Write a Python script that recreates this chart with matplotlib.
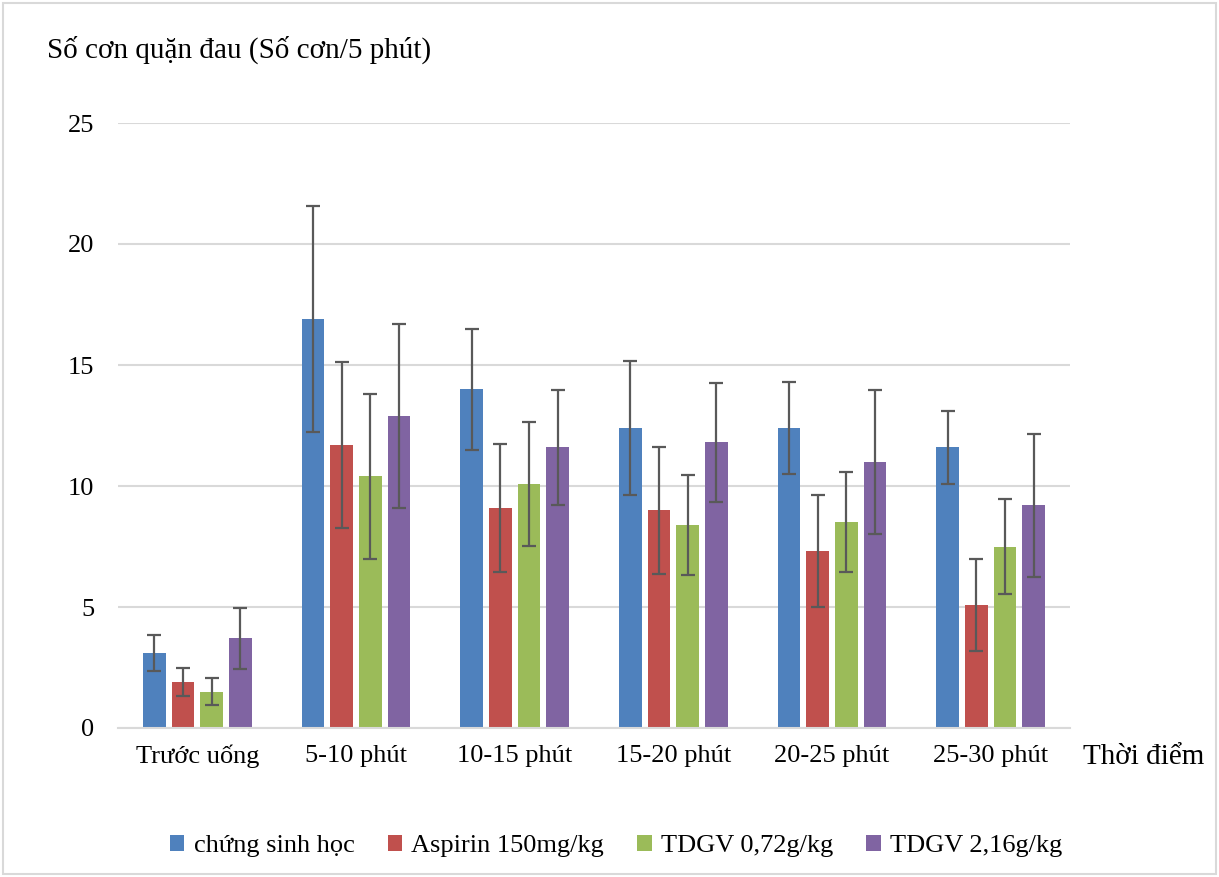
import matplotlib
matplotlib.use("Agg")
import matplotlib.pyplot as plt
import numpy as np
from matplotlib.patches import Rectangle

categories = ["Trước uống", "5-10 phút", "10-15 phút", "15-20 phút", "20-25 phút", "25-30 phút"]
series_names = ["chứng sinh học", "Aspirin 150mg/kg", "TDGV 0,72g/kg", "TDGV 2,16g/kg"]
control = [3.1, 16.9, 14.0, 12.4, 12.4, 11.6]
aspirin = [1.9, 11.7, 9.1, 9.0, 7.3, 5.1]
tdgv_low = [1.5, 10.4, 10.1, 8.4, 8.5, 7.5]
tdgv_high = [3.7, 12.9, 11.6, 11.8, 11.0, 9.2]
control_err = [0.73, 4.67, 2.5, 2.76, 1.9, 1.5]
aspirin_err = [0.58, 3.43, 2.65, 2.62, 2.32, 1.9]
tdgv_low_err = [0.55, 3.41, 2.56, 2.07, 2.07, 1.96]
tdgv_high_err = [1.26, 3.8, 2.38, 2.45, 2.98, 2.94]
yticks = [0, 5, 10, 15, 20, 25]

colors = ["#4F81BD", "#C0504D", "#9BBB59", "#8064A2"]
plt.rcParams['font.family'] = ['Liberation Serif', 'DejaVu Serif']

W, H = 1219, 877
fig = plt.figure(figsize=(W / 100, H / 100), dpi=100)
ax = fig.add_axes([118 / W, 1 - 728 / H, (1070 - 118) / W, (728 - 123) / H])

x = np.arange(len(categories))
step = 0.181
bw = 0.143
vals = [control, aspirin, tdgv_low, tdgv_high]
errs = [control_err, aspirin_err, tdgv_low_err, tdgv_high_err]
for i, (v, e, c, n) in enumerate(zip(vals, errs, colors, series_names)):
    ax.bar(x + (i - 1.5) * step, v, width=bw, color=c, label=n, zorder=2)
    ax.errorbar(x + (i - 1.5) * step, v, yerr=e, fmt='none', ecolor='#595959',
                elinewidth=1.6, capsize=4.8, capthick=1.6, zorder=3)

ax.set_xlim(-0.5, len(categories) - 0.5)
ax.set_ylim(0, 25)
ax.set_yticks(yticks)
ax.set_xticks(x)
ax.set_xticklabels(categories)
ax.grid(axis='y', color='#D9D9D9', linewidth=1.5, zorder=0)
ax.set_axisbelow(True)
for s in ['top', 'right', 'left']:
    ax.spines[s].set_visible(False)
ax.spines['bottom'].set_color('#D9D9D9')
ax.spines['bottom'].set_linewidth(1.5)
ax.tick_params(axis='both', length=0, labelsize=19, colors='black')
ax.tick_params(axis='y', pad=17)
ax.tick_params(axis='x', pad=12)

fig.text(47 / W, 1 - 50 / H, "Số cơn quặn đau (Số cơn/5 phút)", fontsize=21, va='center', ha='left')
fig.text(1083 / W, 1 - 757 / H, "Thời điểm", fontsize=21, va='center', ha='left')

handles, labels = ax.get_legend_handles_labels()
fig.legend(handles, labels, loc='center', bbox_to_anchor=(616 / W, 1 - 846 / H), ncol=4,
           frameon=False, fontsize=19, handlelength=0.55, handleheight=0.55,
           handletextpad=0.35, columnspacing=1.25)

fig.patches.append(Rectangle((3 / W, 3 / H), 1 - 6 / W, 1 - 6 / H, transform=fig.transFigure,
                             fill=False, edgecolor='#D9D9D9', linewidth=1.5))

fig.savefig("out.png", dpi=100)
